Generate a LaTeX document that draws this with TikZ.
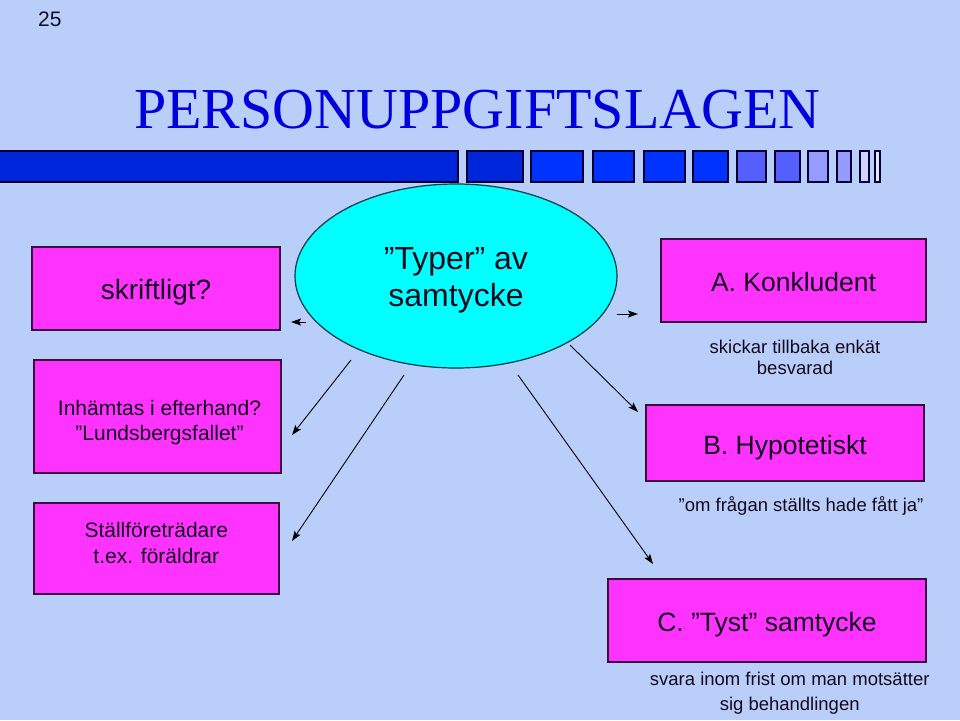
\documentclass[tikz,border=0pt]{standalone}
\usepackage{fontspec}
\setmainfont{Liberation Sans}
\newfontfamily\titlefont{Liberation Serif}
\usetikzlibrary{arrows.meta,shapes.geometric}

\definecolor{bgblue}{RGB}{186,206,250}
\definecolor{pinkfill}{RGB}{255,51,255}
\definecolor{cyanfill}{RGB}{0,255,255}
\definecolor{boxedge}{RGB}{60,10,60}
\definecolor{ellipseedge}{RGB}{0,60,70}
\definecolor{titleblue}{RGB}{0,0,220}
\definecolor{textdark}{RGB}{20,10,30}
\definecolor{numdark}{RGB}{15,15,40}
\definecolor{baredge}{RGB}{0,0,50}
\definecolor{bardark}{RGB}{0,38,220}
\definecolor{barblue}{RGB}{0,51,255}
\definecolor{barmid}{RGB}{85,95,255}
\definecolor{barpale}{RGB}{150,155,255}
\definecolor{barlight}{RGB}{210,210,255}
\definecolor{barwhite}{RGB}{228,230,255}

\tikzset{
  pinkbox/.style={draw=boxedge, fill=pinkfill, line width=1.2pt, inner sep=0pt,
    text=textdark, text height=22pt, text depth=0pt},
  boxtext/.style={text=textdark, inner sep=0pt, align=center},
  bigfont/.style={font=\fontsize{26.5}{30}\selectfont},
  midfont/.style={font=\fontsize{21}{25}\selectfont},
  smallfont/.style={font=\fontsize{18.5}{25}\selectfont},
  conn/.style={-{Stealth[length=10pt,width=7pt,inset=2pt]}, line width=0.9pt}
}

\begin{document}
\begin{tikzpicture}[x=1pt, y=-1pt]
\fill[bgblue] (0,0) rectangle (960,720);
\useasboundingbox (0,0) rectangle (960,720);

% page number and heading
\node[anchor=base west, inner sep=0pt, text=numdark, midfont] (pagenum) at (38,26) {25};
\node[anchor=base west, inner sep=0pt, text=titleblue,
  font=\titlefont\fontsize{58}{62}\selectfont] (heading) at (134,128) {PERSONUPPGIFTSLAGEN};

% segmented bar under the heading
\foreach \xa/\xb/\col in {-2/458/bardark, 467/523/bardark, 531/583/barblue, 593/634/barblue,
    644/685/barblue, 693/728/barblue, 737/766/barmid, 775/800/barmid,
    808/828/barpale, 837/851/barpale, 860/869/barlight, 875/880/barwhite}
  \filldraw[fill=\col, draw=baredge, line width=1.2pt] (\xa,151) rectangle (\xb,182);

% central ellipse
\node[ellipse, draw=ellipseedge, fill=cyanfill, line width=1.2pt,
  minimum width=322pt, minimum height=184pt] (types) at (456,276) {};
\node[boxtext, font=\fontsize{32}{37}\selectfont] (typestext) at (456,280) {”Typer” av\\samtycke};

% left column
\node[pinkbox, font=\fontsize{28}{32}\selectfont, minimum width=248pt, minimum height=83pt]
  (written) at (156,288.5) {skriftligt?};
\node[pinkbox, minimum width=247pt, minimum height=113pt] (after) at (157.5,416.5) {};
\node[boxtext, midfont] (aftertext) at (159.5,422.5) {Inhämtas i efterhand?\\”Lundsbergsfallet”};
\node[pinkbox, minimum width=245pt, minimum height=91pt] (proxy) at (156.5,548.5) {};
\node[boxtext, font=\fontsize{21}{26}\selectfont] (proxytext) at (156.3,543.4) {Ställföreträdare\\t.ex. föräldrar};

% right column
\node[pinkbox, bigfont, minimum width=265pt, minimum height=83pt] (implied) at (793.5,280.5) {A. Konkludent};
\node[boxtext, font=\fontsize{18.5}{21}\selectfont] (impliednote) at (795,357.5) {skickar tillbaka enkät\\besvarad};
\node[pinkbox, bigfont, minimum width=278pt, minimum height=76pt] (hypo) at (785,443) {B. Hypotetiskt};
\node[boxtext, smallfont, anchor=base] (hyponote) at (801,511) {”om frågan ställts hade fått ja”};
\node[pinkbox, bigfont, minimum width=318pt, minimum height=83pt] (silent) at (767,620.5) {C. ”Tyst” samtycke};
\node[boxtext, smallfont] (silentnote) at (789.7,693.4) {svara inom frist om man motsätter\\sig behandlingen};

% arrows out of the ellipse
\coordinate (wA) at (306,322);  \coordinate (wB) at (291,322);
\coordinate (aA) at (351,360);  \coordinate (aB) at (292,435);
\coordinate (pA) at (404,375);  \coordinate (pB) at (292,541);
\coordinate (iA) at (617,314);  \coordinate (iB) at (638,314);
\coordinate (hA) at (570,345);  \coordinate (hB) at (638,412);
\coordinate (sA) at (518,375);  \coordinate (sB) at (653,564);
\draw[conn] (wA) -- (wB);
\draw[conn] (aA) -- (aB);
\draw[conn] (pA) -- (pB);
\draw[conn] (iA) -- (iB);
\draw[conn] (hA) -- (hB);
\draw[conn] (sA) -- (sB);
\end{tikzpicture}
\end{document}
